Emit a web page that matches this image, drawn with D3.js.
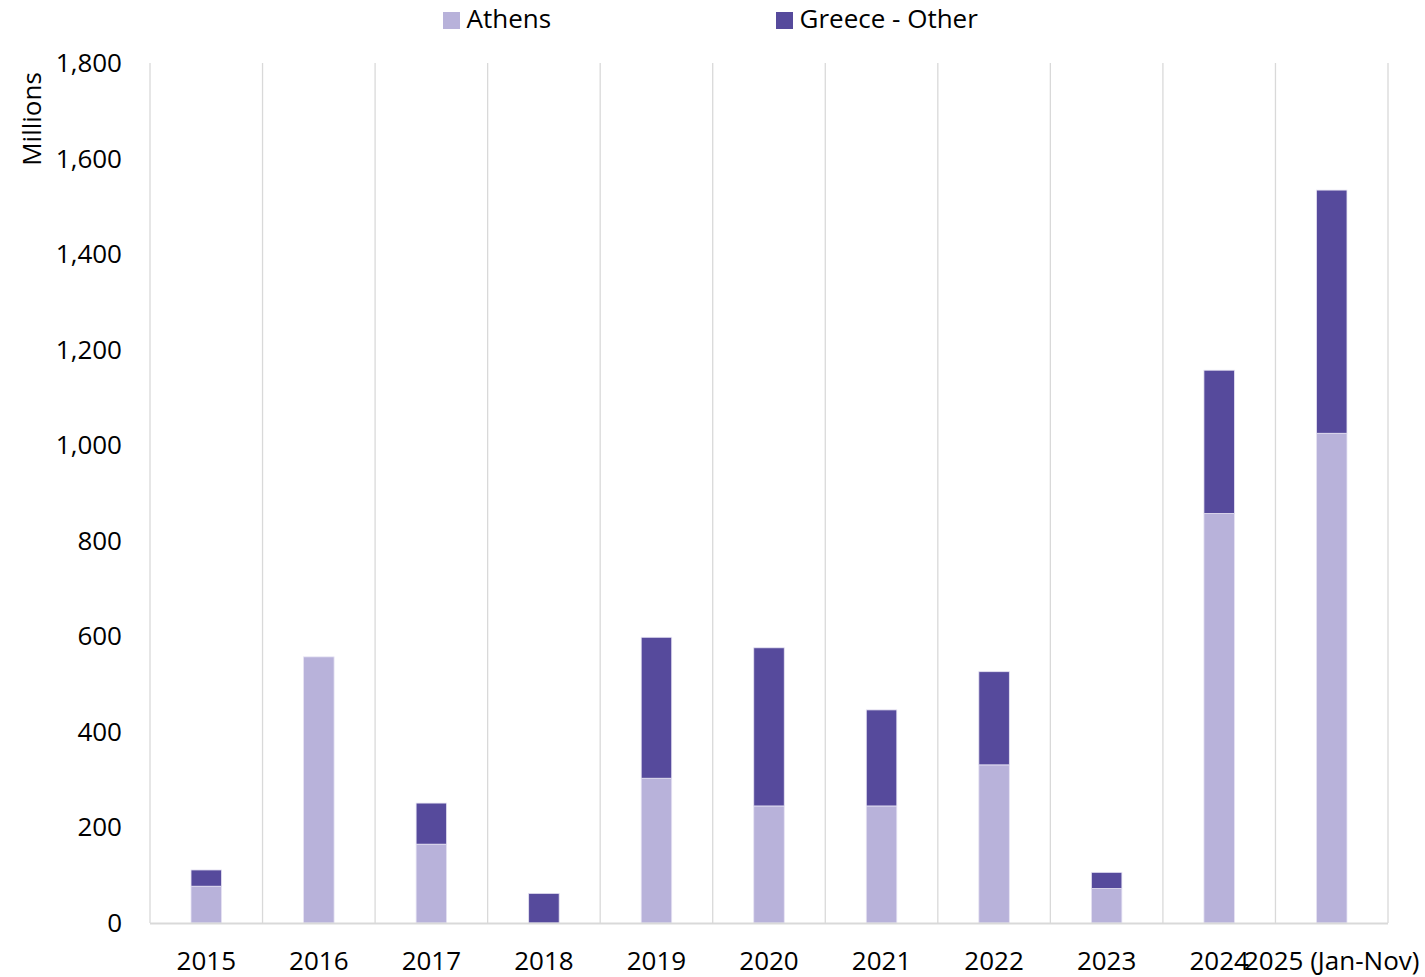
<!DOCTYPE html>
<html><head><meta charset="utf-8">
<script src="https://cdn.jsdelivr.net/npm/d3@7"></script>
<style>
body{margin:0;background:#fff;}
svg{display:block;font-family:"Open Sans","Noto Sans",sans-serif;}
</style></head>
<body>
<svg id="chart" width="1425" height="977"></svg>
<script>
const categories = ["2015","2016","2017","2018","2019","2020","2021","2022","2023","2024","2025 (Jan-Nov)"];
const athens = [77, 557, 165, 0, 303, 245, 245, 331, 72, 857, 1025];
const greeceOther = [34, 0, 86, 62, 295, 331, 201, 195, 34, 300, 509];
const yTicks = [0,200,400,600,800,1000,1200,1400,1600,1800];
const seriesNames = ["Athens","Greece - Other"];
const colors = ["#B8B2DA","#564A9C"];

const svg = d3.select("#chart");
const m = {left:150, right:1388, top:63, bottom:923};
const x = d3.scaleBand().domain(categories).range([m.left, m.right]).paddingInner(0).paddingOuter(0);
const y = d3.scaleLinear().domain([0,1800]).range([m.bottom, m.top]);
const FS = 26;

// vertical gridlines at category boundaries
const bounds = categories.map(c => x(c)).concat([m.right]);
svg.append("g").selectAll("line").data(bounds).join("line")
  .attr("x1", d=>d).attr("x2", d=>d).attr("y1", m.top).attr("y2", m.bottom)
  .attr("stroke", "#d9d9d9").attr("stroke-width", 1.3);

const data = categories.map((c,i)=>({cat:c, Athens:athens[i], "Greece - Other":greeceOther[i]}));
const stack = d3.stack().keys(seriesNames)(data);
const bw = 30.5;
svg.append("g").selectAll("g").data(stack).join("g")
  .attr("fill", (d,i)=>colors[i])
  .selectAll("rect").data(d=>d).join("rect")
  .filter(d => d[1]-d[0] > 0)
  .attr("x", d=>x(d.data.cat)+x.bandwidth()/2-bw/2)
  .attr("width", bw)
  .attr("y", d=>y(d[1]))
  .attr("height", d=>y(d[0])-y(d[1]))
  .attr("stroke","#e6e3f3").attr("stroke-width",0.8);

// bottom axis line
svg.append("line").attr("x1", m.left).attr("x2", m.right).attr("y1", m.bottom+0.5).attr("y2", m.bottom+0.5)
  .attr("stroke","#d9d9d9").attr("stroke-width",2);

// y axis labels
const fmt = d3.format(",");
svg.append("g").selectAll("text").data(yTicks).join("text")
  .attr("x", 122).attr("y", d=>y(d)+9)
  .attr("text-anchor","end").attr("font-size",FS).attr("fill","#000")
  .text(d=>fmt(d));

// x axis labels
svg.append("g").selectAll("text").data(categories).join("text")
  .attr("x", d=>x(d)+x.bandwidth()/2).attr("y", 970)
  .attr("text-anchor","middle").attr("font-size",FS).attr("fill","#000")
  .text(d=>d);

// y title
svg.append("text").attr("transform","translate(41,119) rotate(-90)")
  .attr("text-anchor","middle").attr("font-size",FS).attr("fill","#000").text("Millions");

// legend
const legX = [443, 776];
const lg = svg.append("g").selectAll("g").data(seriesNames).join("g")
  .attr("transform",(d,i)=>`translate(${legX[i]},0)`);
lg.append("rect").attr("x",0).attr("y",12).attr("width",17).attr("height",17).attr("fill",(d,i)=>colors[i]);
lg.append("text").attr("x",23.5).attr("y",28).attr("font-size",FS).attr("fill","#000").text(d=>d);
</script>
</body></html>
